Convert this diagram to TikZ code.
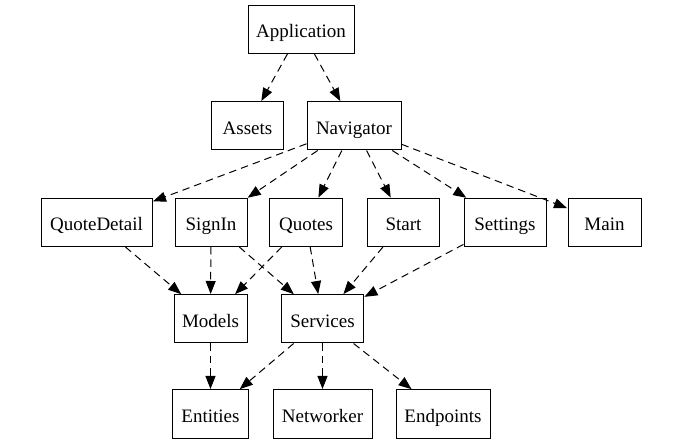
\documentclass[tikz,border=0pt]{standalone}
\usepackage{fontspec}
\setmainfont{Liberation Serif}
\usetikzlibrary{arrows.meta}
\begin{document}
\begin{tikzpicture}[x=1pt,y=-1pt,
  box/.style={draw,line width=1pt,minimum height=48pt,inner xsep=0pt,inner ysep=0pt,
    text height=17pt,text depth=0pt,
    font=\fontsize{19}{22}\selectfont},
  dep/.style={line width=1pt,dash pattern=on 7.5pt off 5pt,
    -{Triangle[length=13pt,width=10pt]},shorten >=0.5pt}]
\useasboundingbox (0,0) rectangle (680,443);
\node[box,minimum width=106pt] (app) at (301,29.5) {Application};
\node[box,minimum width=72pt] (assets) at (247.5,126) {Assets};
\node[box,minimum width=94pt] (nav) at (354,126) {Navigator};
\node[box,minimum width=111pt] (qd) at (96.5,222.5) {QuoteDetail};
\node[box,minimum width=72pt] (signin) at (211,222.5) {SignIn};
\node[box,minimum width=73pt] (quotes) at (306,222.5) {Quotes};
\node[box,minimum width=72pt] (start) at (403.5,222.5) {Start};
\node[box,minimum width=82pt] (settings) at (505,222.5) {Settings};
\node[box,minimum width=73pt] (main) at (604.5,222.5) {Main};
\node[box,minimum width=73pt] (models) at (210.5,319) {Models};
\node[box,minimum width=82pt] (services) at (322.5,319) {Services};
\node[box,minimum width=76pt] (entities) at (210.5,414) {Entities};
\node[box,minimum width=99pt] (networker) at (322.5,414) {Networker};
\node[box,minimum width=94pt] (endpoints) at (443,414) {Endpoints};
\draw[dep] (app) -- (assets);
\draw[dep] (app) -- (nav);
\draw[dep] (nav) -- (qd);
\draw[dep] (nav) -- (signin);
\draw[dep] (nav) -- (quotes);
\draw[dep] (nav) -- (start);
\draw[dep] (nav) -- (settings);
\draw[dep] (nav) -- (main);
\draw[dep] (qd) -- (models);
\draw[dep] (signin) -- (models);
\draw[dep] (signin) -- (services);
\draw[dep] (quotes) -- (models);
\draw[dep] (quotes) -- (services);
\draw[dep] (start) -- (services);
\draw[dep] (settings) -- (services);
\draw[dep] (models) -- (entities);
\draw[dep] (services) -- (entities);
\draw[dep] (services) -- (networker);
\draw[dep] (services) -- (endpoints);
\end{tikzpicture}
\end{document}
